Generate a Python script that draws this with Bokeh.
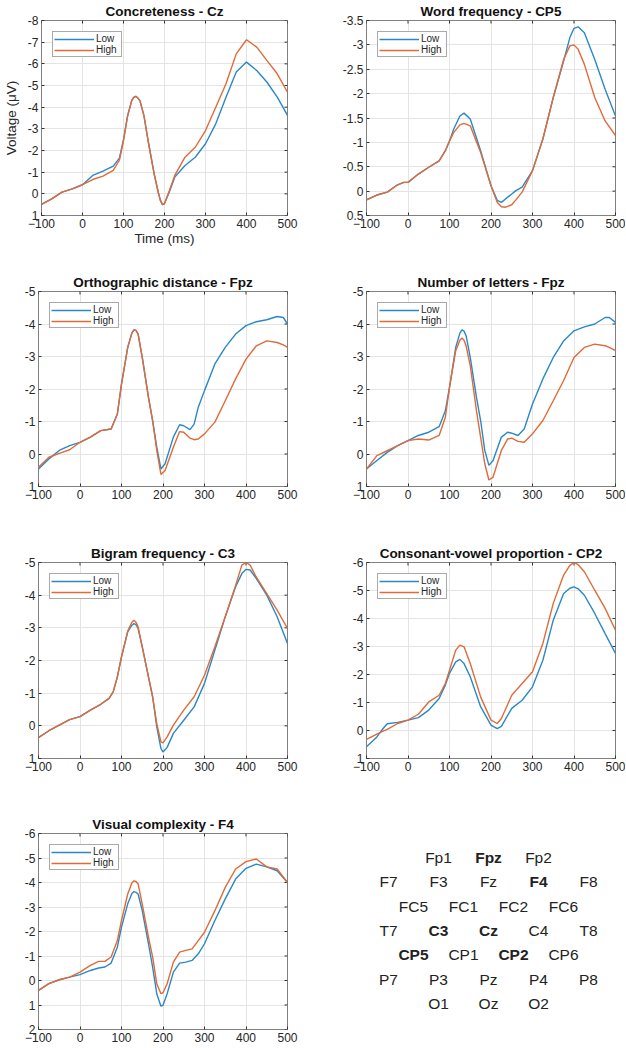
import math
from bokeh.plotting import figure
from bokeh.models import Range1d, FixedTicker, Legend, LegendItem, NumeralTickFormatter, ColumnDataSource
from bokeh.layouts import column, row
from bokeh.embed import file_html
from bokeh.resources import INLINE
from bokeh.core.properties import value

FONT = "Liberation Sans"
BLUE = "#2a88c6"
ORANGE = "#e06a38"
TXT = "#262626"

x_ticks = [-100, 0, 100, 200, 300, 400, 500]

# ---- data (time in ms, voltage in microvolts) ----
t1 = [-100, -75, -50, -25, 0, 25, 50, 75, 90, 100, 110, 120, 125, 130, 135, 140, 150, 160, 175, 185, 190, 195, 200, 212, 225, 250, 275, 300, 325, 350, 375, 400, 425, 450, 475, 500]
low1 = [0.49, 0.23, -0.08, -0.23, -0.42, -0.85, -1.05, -1.28, -1.65, -2.5, -3.6, -4.3, -4.45, -4.5, -4.42, -4.3, -3.6, -2.45, -0.9, -0.05, 0.3, 0.5, 0.45, -0.1, -0.77, -1.31, -1.69, -2.31, -3.23, -4.46, -5.62, -6.08, -5.69, -5.15, -4.46, -3.62]
high1 = [0.49, 0.23, -0.08, -0.23, -0.42, -0.66, -0.82, -1.08, -1.55, -2.45, -3.6, -4.3, -4.45, -4.5, -4.42, -4.3, -3.6, -2.45, -0.9, -0.05, 0.3, 0.5, 0.45, -0.15, -0.85, -1.69, -2.15, -2.92, -4.0, -5.08, -6.46, -7.11, -6.77, -6.15, -5.54, -4.69]

t2 = [-100, -75, -50, -25, -10, 0, 25, 50, 75, 90, 100, 110, 125, 135, 150, 175, 200, 215, 225, 235, 250, 260, 275, 300, 325, 350, 375, 390, 400, 410, 425, 450, 475, 500]
low2 = [0.18, 0.08, 0.02, -0.13, -0.18, -0.18, -0.35, -0.49, -0.62, -0.83, -1.03, -1.27, -1.54, -1.6, -1.48, -0.83, -0.11, 0.19, 0.23, 0.16, 0.06, -0.01, -0.08, -0.42, -1.07, -1.92, -2.67, -3.15, -3.34, -3.37, -3.25, -2.70, -2.09, -1.54]
high2 = [0.18, 0.08, 0.02, -0.13, -0.18, -0.18, -0.35, -0.49, -0.62, -0.83, -1.03, -1.2, -1.36, -1.39, -1.34, -0.79, -0.11, 0.23, 0.32, 0.33, 0.28, 0.18, 0.02, -0.42, -1.07, -1.92, -2.70, -2.98, -3.0, -2.91, -2.6, -1.92, -1.44, -1.14]

t3 = [-100, -75, -50, -25, 0, 25, 50, 75, 90, 100, 115, 125, 130, 135, 140, 150, 165, 175, 185, 195, 205, 225, 240, 250, 265, 275, 285, 300, 325, 350, 375, 400, 425, 450, 475, 490, 500]
low3 = [0.46, 0.15, -0.11, -0.26, -0.36, -0.52, -0.72, -0.77, -1.23, -2.15, -3.28, -3.72, -3.82, -3.8, -3.69, -2.97, -1.74, -1.03, -0.21, 0.46, 0.3, -0.52, -0.9, -0.87, -0.75, -0.92, -1.44, -1.95, -2.77, -3.28, -3.69, -3.95, -4.07, -4.13, -4.23, -4.2, -4.0]
high3 = [0.41, 0.1, -0.02, -0.13, -0.36, -0.52, -0.72, -0.77, -1.23, -2.15, -3.28, -3.72, -3.82, -3.8, -3.69, -2.97, -1.74, -1.03, -0.11, 0.63, 0.51, -0.21, -0.69, -0.67, -0.49, -0.44, -0.46, -0.62, -0.98, -1.64, -2.31, -2.92, -3.33, -3.48, -3.43, -3.36, -3.28]

t4 = [-100, -75, -50, -25, 0, 25, 50, 75, 90, 100, 115, 125, 130, 135, 140, 150, 165, 175, 185, 195, 205, 225, 240, 250, 265, 280, 300, 325, 350, 375, 400, 425, 450, 475, 485, 500]
low4 = [0.46, 0.2, -0.05, -0.26, -0.41, -0.57, -0.67, -0.84, -1.33, -2.05, -3.28, -3.72, -3.82, -3.78, -3.64, -2.97, -1.74, -1.03, -0.11, 0.35, 0.2, -0.52, -0.67, -0.64, -0.57, -0.77, -1.54, -2.31, -2.97, -3.48, -3.79, -3.91, -4.0, -4.2, -4.2, -4.05]
high4 = [0.46, 0.05, -0.1, -0.26, -0.41, -0.46, -0.43, -0.57, -1.13, -2.05, -3.18, -3.5, -3.57, -3.5, -3.33, -2.72, -1.33, -0.52, 0.3, 0.8, 0.71, -0.11, -0.46, -0.49, -0.39, -0.36, -0.62, -1.03, -1.64, -2.26, -2.97, -3.28, -3.38, -3.33, -3.28, -3.18]

t5 = [-100, -75, -50, -25, 0, 25, 50, 70, 80, 90, 100, 115, 125, 130, 135, 140, 150, 165, 175, 185, 195, 200, 210, 225, 250, 275, 300, 325, 350, 375, 390, 400, 410, 425, 450, 475, 500]
low5 = [0.36, 0.15, -0.02, -0.19, -0.28, -0.48, -0.66, -0.84, -1.04, -1.5, -2.11, -2.88, -3.08, -3.13, -3.1, -2.98, -2.42, -1.5, -0.89, 0.03, 0.69, 0.8, 0.66, 0.23, -0.17, -0.58, -1.3, -2.32, -3.34, -4.26, -4.66, -4.79, -4.77, -4.51, -4.0, -3.34, -2.52]
high5 = [0.36, 0.15, -0.02, -0.19, -0.28, -0.48, -0.66, -0.84, -1.04, -1.5, -2.11, -2.9, -3.17, -3.23, -3.17, -3.03, -2.42, -1.5, -0.89, -0.07, 0.49, 0.52, 0.34, -0.02, -0.48, -0.89, -1.55, -2.42, -3.34, -4.3, -4.92, -5.0, -4.92, -4.55, -4.05, -3.54, -2.98]

t6 = [-100, -75, -60, -50, -25, 0, 25, 50, 75, 90, 100, 115, 125, 135, 150, 175, 200, 215, 225, 250, 275, 300, 325, 350, 375, 390, 400, 410, 425, 450, 475, 500]
low6 = [0.58, 0.23, -0.07, -0.24, -0.29, -0.37, -0.46, -0.73, -1.14, -1.62, -2.04, -2.45, -2.54, -2.39, -1.92, -0.85, -0.19, -0.07, -0.15, -0.79, -1.08, -1.56, -2.51, -3.94, -4.89, -5.08, -5.13, -5.06, -4.83, -4.18, -3.46, -2.75]
high6 = [0.32, 0.13, 0.02, -0.04, -0.25, -0.37, -0.58, -1.02, -1.26, -1.68, -2.15, -2.87, -3.05, -2.99, -2.39, -1.2, -0.37, -0.25, -0.43, -1.26, -1.68, -2.1, -3.11, -4.54, -5.55, -5.9, -6.0, -5.92, -5.67, -5.01, -4.36, -3.58]

t7 = [-100, -75, -50, -25, 0, 25, 45, 60, 75, 90, 100, 115, 125, 130, 135, 140, 150, 165, 175, 185, 195, 200, 210, 225, 240, 255, 270, 285, 300, 325, 350, 375, 400, 425, 450, 475, 500]
low7 = [0.4, 0.13, -0.03, -0.14, -0.24, -0.41, -0.51, -0.55, -0.71, -1.36, -2.18, -3.13, -3.55, -3.63, -3.6, -3.53, -2.85, -1.5, -0.55, 0.54, 1.05, 1.01, 0.54, -0.34, -0.71, -0.75, -0.82, -1.09, -1.5, -2.45, -3.33, -4.14, -4.58, -4.75, -4.64, -4.48, -4.0]
high7 = [0.4, 0.13, -0.03, -0.14, -0.34, -0.62, -0.78, -0.78, -0.96, -1.63, -2.45, -3.53, -3.98, -4.07, -4.04, -3.94, -3.12, -1.77, -0.96, 0.13, 0.54, 0.5, 0.13, -0.75, -1.16, -1.23, -1.29, -1.63, -1.97, -2.85, -3.8, -4.55, -4.85, -4.96, -4.64, -4.55, -4.0]

electrode_rows = [
    ["Fp1", "Fpz", "Fp2"],
    ["F7", "F3", "Fz", "F4", "F8"],
    ["FC5", "FC1", "FC2", "FC6"],
    ["T7", "C3", "Cz", "C4", "T8"],
    ["CP5", "CP1", "CP2", "CP6"],
    ["P7", "P3", "Pz", "P4", "P8"],
    ["O1", "Oz", "O2"],
]
highlighted = ["Fpz", "F4", "C3", "Cz", "CP5", "CP2"]


def style_axis(ax, ticker):
    ax.ticker = ticker
    ax.major_tick_in = 3
    ax.major_tick_out = 0
    ax.minor_tick_line_color = None
    ax.axis_line_color = None
    ax.major_tick_line_color = "#333333"
    ax.major_label_text_font = FONT
    ax.major_label_text_color = TXT
    ax.major_label_text_font_size = "12px"
    ax.major_label_standoff = 3


def make_panel(title, t, low, high, ybottom, ytop, ystep, width, height, bl, br, bt, bb,
               xlabel=None, ylabel=None):
    p = figure(width=width, height=height, output_backend="svg", toolbar_location=None,
               x_range=Range1d(-100, 500), y_range=Range1d(ybottom, ytop),
               min_border_left=bl, min_border_right=br, min_border_top=bt, min_border_bottom=bb)
    n = int(round((ybottom - ytop) / ystep))
    yt = [round(ytop + i * ystep, 3) for i in range(n + 1)]
    xax = p.xaxis[0]
    yax = p.yaxis[0]
    xtk = FixedTicker(ticks=x_ticks)
    ytk = FixedTicker(ticks=yt)
    style_axis(xax, xtk)
    style_axis(yax, ytk)
    yax.formatter = NumeralTickFormatter(format="0.[0]")

    p.xgrid.ticker = xtk
    p.ygrid.ticker = ytk
    p.grid.grid_line_color = "#e4e4e4"
    p.grid.grid_line_width = 1
    p.outline_line_color = "#808080"
    p.outline_line_width = 1

    # inward ticks on the top and right edges (half of each dash is clipped by the frame)
    p.scatter(x_ticks, [ytop] * len(x_ticks), marker="dash", angle=math.pi / 2, size=6,
              line_color="#333333", line_width=1)
    p.scatter([500] * len(yt), yt, marker="dash", size=6, line_color="#333333", line_width=1)

    r1 = p.line(t, low, line_color=BLUE, line_width=1.4)
    r2 = p.line(t, high, line_color=ORANGE, line_width=1.4)

    leg = Legend(items=[LegendItem(label="Low", renderers=[r1]),
                        LegendItem(label="High", renderers=[r2])],
                 location="top_left", margin=11, padding=1, spacing=0,
                 glyph_width=40, glyph_height=10, label_height=10, label_width=24,
                 label_standoff=2,
                 label_text_font=FONT, label_text_font_size="10px", label_text_color=TXT,
                 border_line_color="#555555", border_line_width=1,
                 background_fill_alpha=1.0)
    p.add_layout(leg)

    p.title.text = title
    p.title.align = "center"
    p.title.text_font = FONT
    p.title.text_font_style = "bold"
    p.title.text_font_size = "13.5px"
    p.title.text_color = "#111111"
    p.title.standoff = 3
    p.title.offset = 0

    if xlabel:
        xax.axis_label = xlabel
        xax.axis_label_text_font = FONT
        xax.axis_label_text_font_style = "normal"
        xax.axis_label_text_font_size = "13.5px"
        xax.axis_label_text_color = TXT
        xax.axis_label_standoff = 0
    if ylabel:
        yax.axis_label = ylabel
        yax.axis_label_text_font = FONT
        yax.axis_label_text_font_style = "normal"
        yax.axis_label_text_font_size = "13.5px"
        yax.axis_label_text_color = TXT
        yax.axis_label_standoff = 6
    return p


LW, RW = 320, 305
f1 = make_panel("Concreteness - Cz", t1, low1, high1, 1, -8, 1, LW, 262, 38, 33, 20, 47,
                xlabel="Time (ms)", ylabel="Voltage (\u03bcV)")
f2 = make_panel("Word frequency - CP5", t2, low2, high2, 0.5, -3.5, 0.5, RW, 262, 46, 10, 20, 47)
f3 = make_panel("Orthographic distance - Fpz", t3, low3, high3, 1, -5, 1, LW, 263, 38, 33, 29, 39)
f4 = make_panel("Number of letters - Fpz", t4, low4, high4, 1, -5, 1, RW, 263, 46, 10, 29, 39)
f5 = make_panel("Bigram frequency - C3", t5, low5, high5, 1, -5, 1, LW, 265, 38, 33, 37, 32)
f6 = make_panel("Consonant-vowel proportion - CP2", t6, low6, high6, 1, -6, 1, RW, 265, 46, 10, 37, 32)
f7 = make_panel("Visual complexity - F4", t7, low7, high7, 2, -6, 1, LW, 257, 38, 33, 43, 18)

# electrode grid
xs, ys, names, weights = [], [], [], []
for r, names_row in enumerate(electrode_rows):
    start = (5 - len(names_row)) / 2
    for i, nm in enumerate(names_row):
        xs.append(start + i)
        ys.append(r)
        names.append(nm)
        weights.append("bold" if nm in highlighted else "normal")


def subset(flag):
    return ColumnDataSource(dict(x=[x for x, w in zip(xs, weights) if w == flag],
                                 y=[y for y, w in zip(ys, weights) if w == flag],
                                 name=[n for n, w in zip(names, weights) if w == flag]))


fe = figure(width=RW, height=257, output_backend="svg", toolbar_location=None,
            x_range=Range1d(-1.36, 4.74), y_range=Range1d(7.07, -0.99),
            x_axis_type=None, y_axis_type=None,
            min_border_left=0, min_border_right=0, min_border_top=43, min_border_bottom=18)
fe.grid.visible = False
fe.outline_line_color = None
for flag in ("normal", "bold"):
    fe.text(x="x", y="y", text="name", source=subset(flag), text_align="center",
            text_baseline="middle", text_font=value(FONT), text_font_size=value("15.5px"),
            text_font_style=flag, text_color="#222222")

layout = column(row(f1, f2), row(f3, f4), row(f5, f6), row(f7, fe))
open("out.html", "w").write(file_html(layout, INLINE))
